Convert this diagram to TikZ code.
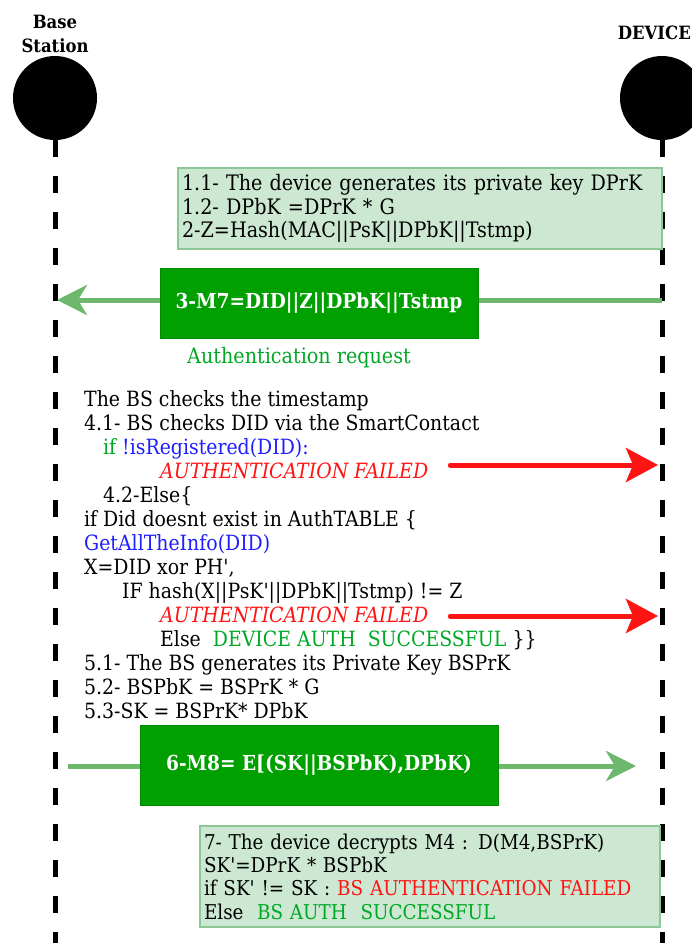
\documentclass[tikz,border=0pt]{standalone}
\usepackage{fontspec}
\setmainfont{DejaVu Serif Condensed}
\usetikzlibrary{arrows.meta, positioning}
\definecolor{notefill}{HTML}{CCE8D2}
\definecolor{notedraw}{HTML}{8CC896}
\definecolor{msgfill}{HTML}{00A000}
\definecolor{msgdraw}{HTML}{008A00}
\definecolor{msgline}{HTML}{6DB86D}
\definecolor{okgreen}{HTML}{00A826}
\definecolor{callblue}{HTML}{1E1EFF}
\definecolor{failred}{HTML}{FF1414}
\newcommand{\codefont}{\fontsize{21}{24}\selectfont}
\tikzset{
    actor/.style={circle, fill=black, minimum size=84pt, inner sep=0pt},
    actorname/.style={font=\bfseries\fontsize{18.3}{24}\selectfont, align=center},
    lifeline/.style={line width=5pt, dash pattern=on 17pt off 19pt},
    notebox/.style={rectangle, draw=notedraw, line width=1.5pt, fill=notefill, align=left, inner xsep=4pt, font=\fontsize{21.3}{23.5}\selectfont},
    msgbox/.style={rectangle, draw=msgdraw, line width=1pt, fill=msgfill, text=white, font=\bfseries\fontsize{20.6}{22}\selectfont},
    msgarrow/.style={line width=5pt, msgline, -{Stealth[length=30pt, width=30pt, inset=9pt]}},
    failarrow/.style={line width=5pt, failred, line cap=round, -{Stealth[length=32pt, width=34pt, inset=7pt]}},
}

\begin{document}
\begin{tikzpicture}[
  x=1pt, y=-1pt,
  codeline/.style={anchor=base west, inner sep=0pt, font=\codefont},
  failtext/.style={codeline, text=failred, font=\fontsize{21}{24}\selectfont\itshape}
]
\fill[white] (0,0) rectangle (692,943);
\useasboundingbox (0,0) rectangle (692,943);

% Actors and lifelines
\node[actor] (bs) at (55,98) {};
\node[actor] (dev) at (662,98) {};
\node[actorname] (bsname) at (55,34) {Base\\Station};
\node[actorname, anchor=east, inner xsep=0pt] (devname) at (691,33) {DEVICE};
\coordinate (bs-end) at (55,943);
\coordinate (dev-end) at (662,943);
\draw[lifeline] (bs.south) -- (bs-end);
\draw[lifeline] (dev.south) -- (dev-end);

% Device side - key generation
\node[notebox, minimum width=480pt, minimum height=81pt, text width=476pt] (keygen) at (420,208.5) {1.1- The device generates its private key DPrK\\1.2- DPbK =DPrK * G\\2-Z=Hash(MAC||PsK||DPbK||Tstmp)};

% Message M7
\coordinate (dev-m7) at (662,300);
\coordinate (bs-m7) at (57,300);
\draw[msgarrow] (dev-m7) -- (bs-m7);
\node[msgbox, minimum width=318pt, minimum height=70pt] (m7) at (319,303) {3-M7=DID||Z||DPbK||Tstmp};
\node[font=\fontsize{21.3}{22}\selectfont, text=okgreen] (authreq) at (299,358) {Authentication request};

% Base station checks
\node[codeline] (tscheck) at (84,406) {The BS checks the timestamp};
\node[codeline] (didcheck) at (84,430) {4.1- BS checks DID via the SmartContact};
\node[codeline] (ifreg) at (103,454) {\textcolor{okgreen}{if} \textcolor{callblue}{!isRegistered(DID):}};
\node[failtext] (fail1) at (160,478) {AUTHENTICATION FAILED};
\node[codeline] (else1) at (103,502) {4.2-Else\{};
\node[codeline] (ifdid) at (84,526) {if Did doesnt exist in AuthTABLE \{};
\node[codeline, text=callblue] (getinfo) at (84,550) {GetAllTheInfo(DID)};
\node[codeline] (xcalc) at (84,574) {X=DID xor PH\textquotesingle,};
\node[codeline] (ifhash) at (122,598) {IF hash(X||PsK\textquotesingle||DPbK||Tstmp) != Z};
\node[failtext] (fail2) at (160,622) {AUTHENTICATION FAILED};
\node[codeline] (else2) at (160,646) {Else\ \ \textcolor{okgreen}{DEVICE AUTH\ \ SUCCESSFUL} \}\}};
\node[codeline] (bsprk) at (84,670) {5.1- The BS generates its Private Key BSPrK};
\node[codeline] (bspbk) at (84,694) {5.2- BSPbK = BSPrK * G};
\node[codeline] (skcalc) at (84,718) {5.3-SK = BSPrK* DPbK};

% Failure arrows
\coordinate (dev-f1) at (658,465);
\coordinate (dev-f2) at (658,616);
\draw[failarrow] ([xshift=22pt]fail1.east |- dev-f1) -- (dev-f1);
\draw[failarrow] ([xshift=22pt]fail2.east |- dev-f2) -- (dev-f2);

% Message M8
\coordinate (bs-m8) at (68,766);
\coordinate (dev-m8) at (636,766);
\draw[msgarrow] (bs-m8) -- (dev-m8);
\node[msgbox, minimum width=358pt, minimum height=80pt] (m8) at (319,765) {6-M8= E[(SK||BSPbK),DPbK)};

% Device side - decryption
\node[notebox, minimum width=460pt, minimum height=101pt, text width=452pt, font=\fontsize{20.4}{23.3}\selectfont] (decrypt) at (430,876.5) {7- The device decrypts M4 : D(M4,BSPrK)\\SK\textquotesingle=DPrK * BSPbK\\if SK\textquotesingle\ != SK : \textcolor{failred}{BS AUTHENTICATION FAILED}\\Else\ \ \textcolor{okgreen}{BS AUTH\ \ SUCCESSFUL}};
\end{tikzpicture}
\end{document}
